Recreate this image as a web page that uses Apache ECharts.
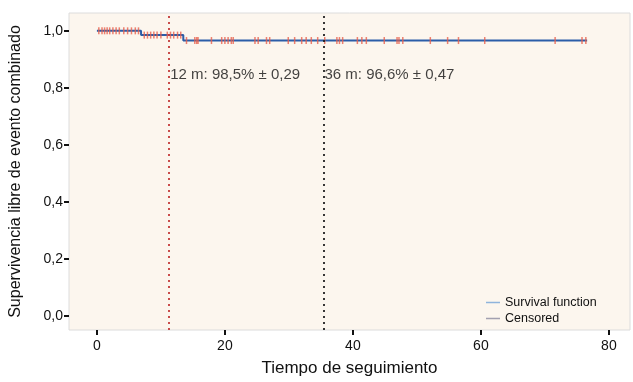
<!DOCTYPE html>
<html>
<head>
<meta charset="utf-8">
<script src="https://cdn.jsdelivr.net/npm/echarts@6/dist/echarts.min.js"></script>
<style>
  html, body { margin: 0; padding: 0; background: #fff; }
  #chart { width: 633px; height: 382px; }
</style>
</head>
<body>
<div id="chart"></div>
<script>
// curva de supervivencia (tiempo en meses, supervivencia)
var stepTimes = [0, 6.9, 13.5, 76.6]
var stepSurv = [1.0, 0.985, 0.966, 0.966]
// censurados
var censorTimes = [
  0.3, 0.8, 1.2, 1.6, 2.0, 2.5, 3.0, 3.5, 4.2, 4.8, 5.4, 6.0, 6.5,
  7.4, 7.9, 8.4, 8.9, 9.4, 10.0, 11.0, 11.5, 12.0, 12.6, 13.1,
  14.0, 15.3, 15.6, 15.8, 17.9, 19.5, 20.0, 20.5, 21.0, 21.3, 24.7, 25.2, 26.5, 27.0,
  29.9, 30.9, 32.0, 32.7, 33.5, 34.5, 35.6, 37.5, 37.9, 38.4, 40.7, 41.4, 42.1,
  44.9, 46.9, 47.2, 47.8, 52.1, 54.8, 56.5, 60.6, 71.6, 75.8, 76.4
]
var xTicks = [0, 20, 40, 60, 80]
var yTicks = [0, 0.2, 0.4, 0.6, 0.8, 1.0]
var cutTimes = [11.3, 35.4]
var cutLabels = ['12 m: 98,5% \u00b1 0,29', '36 m: 96,6% \u00b1 0,47']

function survAt (t) {
  var s = stepSurv[0]
  for (var i = 0; i < stepTimes.length; i++) {
    if (stepTimes[i] <= t) s = stepSurv[i]
  }
  return s
}

var curveData = stepTimes.map(function (t, i) { return [t, stepSurv[i]] })
var censorData = censorTimes.map(function (t) { return [t, survAt(t)] })

var font = 'Liberation Sans, Arial, sans-serif'
var myChart = echarts.init(document.getElementById('chart'))
myChart.setOption({
  animation: false,
  textStyle: { fontFamily: font },
  grid: {
    left: 67, top: 13, right: 3, bottom: 49,
    show: true,
    backgroundColor: '#fcf6ee',
    borderColor: '#dcdcdc',
    borderWidth: 1
  },
  legend: {
    orient: 'vertical',
    left: 481, top: 291,
    itemWidth: 14, itemHeight: 1.5, itemGap: 3,
    textStyle: { fontSize: 12.5, color: '#111', fontFamily: font },
    data: [
      {
        name: 'Survival function', icon: 'rect',
        itemStyle: { color: '#8fb4dc', borderWidth: 0 },
        lineStyle: { color: '#8fb4dc', width: 0 }
      },
      {
        name: 'Censored', icon: 'rect',
        itemStyle: { color: '#8c8ca0', borderWidth: 0 },
        lineStyle: { color: '#8c8ca0', width: 0 }
      }
    ]
  },
  xAxis: {
    type: 'value',
    min: -4.36, max: 83.3,
    name: 'Tiempo de seguimiento',
    nameLocation: 'middle', nameGap: 30,
    nameTextStyle: { fontSize: 17, color: '#111', fontFamily: font },
    axisLine: { show: false, onZero: false },
    splitLine: { show: false },
    axisTick: { show: true, length: 5, customValues: xTicks, lineStyle: { color: '#111', width: 2 } },
    axisLabel: { customValues: xTicks, fontSize: 14, color: '#111', margin: 9 }
  },
  yAxis: {
    type: 'value',
    min: -0.0486, max: 1.0625,
    name: 'Supervivencia libre de evento combinado',
    nameLocation: 'middle', nameGap: 45,
    nameTextStyle: { fontSize: 16, color: '#111', fontFamily: font },
    axisLine: { show: false, onZero: false },
    splitLine: { show: false },
    axisTick: { show: true, length: 5, customValues: yTicks, lineStyle: { color: '#111', width: 2 } },
    axisLabel: {
      customValues: yTicks, fontSize: 14, color: '#111', margin: 6,
      formatter: function (v) { return v.toFixed(1).replace('.', ',') }
    }
  },
  series: [
    {
      name: 'Survival function',
      type: 'line',
      step: 'end',
      data: curveData,
      showSymbol: false,
      lineStyle: { color: '#2b5da8', width: 2 },
      z: 3,
      markLine: {
        silent: true,
        symbol: 'none',
        label: { show: false },
        data: [
          { xAxis: cutTimes[0], lineStyle: { color: '#c43a3a', type: [2, 4], width: 1.8 } },
          { xAxis: cutTimes[1], lineStyle: { color: '#222', type: [2, 4], width: 1.8 } }
        ]
      }
    },
    {
      name: 'Censored',
      type: 'scatter',
      data: censorData,
      symbol: 'rect',
      symbolSize: [1.5, 7],
      itemStyle: { color: '#e8604c' },
      z: 4
    },
    {
      name: 'anotaciones',
      type: 'scatter',
      symbolSize: 0,
      data: cutTimes.map(function (t, i) { return { value: [t, 0.845], label: { formatter: cutLabels[i] } } }),
      label: { show: true, position: 'right', distance: 1, fontSize: 15, color: '#111', fontFamily: font },
      silent: true
    }
  ]
})
</script>
</body>
</html>
